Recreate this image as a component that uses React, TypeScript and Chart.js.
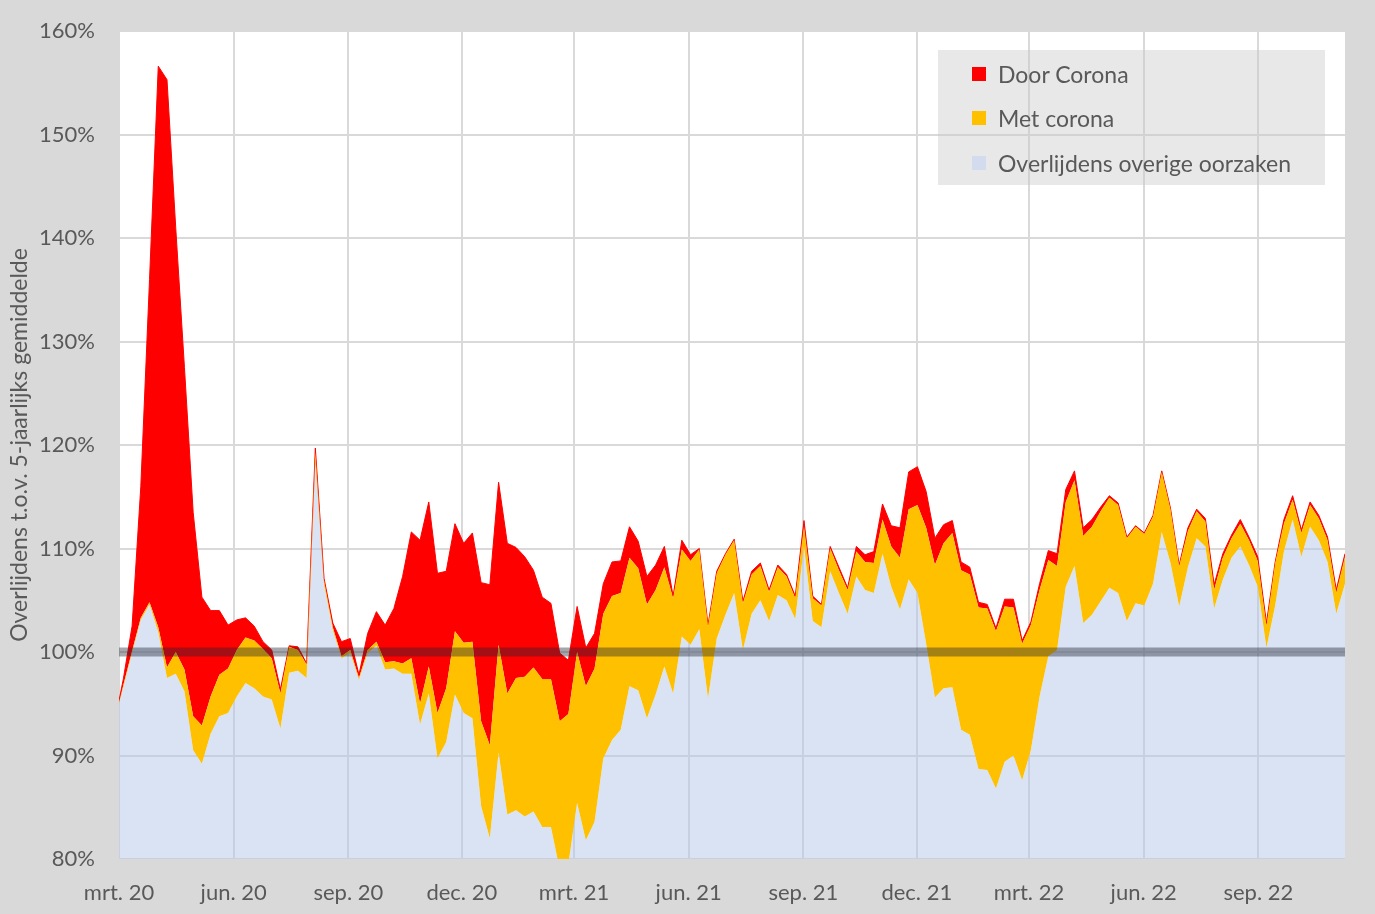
import React, { useEffect, useRef } from "react";
import { Chart, registerables } from "chart.js";

Chart.register(...registerables);

// Tick labels on the date axis (days since 1 March 2020)
const X_TICK_DAYS = [0, 92, 184, 275, 365, 457, 549, 640, 730, 822, 914];
const X_TICK_LABELS = [
  "mrt. 20", "jun. 20", "sep. 20", "dec. 20", "mrt. 21", "jun. 21",
  "sep. 21", "dec. 21", "mrt. 22", "jun. 22", "sep. 22",
];
const X_MAX_DAY = 983.5;

const SERIES_NAMES = ["Door Corona", "Met corona", "Overlijdens overige oorzaken"];
const REF_LEVEL = 100;

// Top of the "overige oorzaken" layer (first value = left edge of the plot, then weekly)
const overigTop = [
  95.0, 96.6, 99.9, 103.1, 104.6, 101.9, 97.5, 97.9, 96.2, 90.5, 89.2, 92.1, 93.8, 94.1, 95.7, 97.0,
  96.5, 95.7, 95.4, 92.6, 98.0, 98.2, 97.5, 118.5, 106.5, 102.1, 99.4, 99.9, 97.3, 99.9, 100.6, 98.3,
  98.4, 97.9, 97.9, 93.0, 96.0, 89.7, 91.3, 95.9, 94.1, 93.6, 85.1, 82.0, 90.3, 84.3, 84.7, 84.1,
  84.6, 83.1, 83.1, 79.0, 79.5, 85.4, 81.8, 83.6, 89.7, 91.5, 92.5, 96.7, 96.3, 93.6, 95.9, 98.6,
  96.0, 101.5, 100.7, 102.2, 95.5, 101.3, 103.6, 105.7, 100.2, 103.7, 105.0, 103.0, 105.5, 105.0, 103.2, 110.2,
  103.0, 102.4, 107.8, 105.7, 103.7, 107.3, 106.0, 105.7, 109.5, 106.3, 104.1, 107.0, 105.7, 100.8, 95.6, 96.5,
  96.6, 92.5, 92.0, 88.7, 88.6, 86.8, 89.4, 90.0, 87.6, 90.5, 95.7, 99.6, 100.2, 106.3, 108.3, 102.8,
  103.6, 104.9, 106.2, 105.7, 103.0, 104.7, 104.5, 106.6, 111.6, 108.6, 104.4, 108.2, 111.0, 110.2, 104.2, 107.0,
  109.1, 110.2, 108.4, 106.3, 100.4, 104.5, 109.7, 112.8, 109.2, 112.1, 110.8, 108.7, 103.7, 106.6,
];

// Top of the "Met corona" layer
const metTop = [
  95.1, 96.8, 100.1, 103.3, 104.8, 102.4, 98.5, 100.0, 98.3, 93.8, 92.9, 95.7, 97.8, 98.4, 100.2, 101.4,
  101.1, 100.3, 99.4, 96.0, 100.5, 100.2, 98.8, 119.3, 106.9, 102.4, 99.6, 100.2, 97.5, 100.2, 101.0, 99.0,
  99.1, 98.9, 99.4, 95.0, 98.6, 94.1, 96.5, 102.0, 100.9, 101.0, 93.3, 91.0, 100.7, 96.0, 97.5, 97.6,
  98.5, 97.4, 97.4, 93.3, 94.0, 100.0, 96.7, 98.4, 103.7, 105.4, 105.7, 109.1, 108.1, 104.6, 106.0, 108.2,
  105.2, 109.9, 108.8, 109.9, 102.5, 107.6, 109.4, 110.8, 104.7, 107.5, 108.3, 105.8, 108.2, 107.3, 105.2, 112.1,
  105.2, 104.5, 110.0, 107.9, 106.0, 109.7, 108.7, 108.6, 112.8, 110.2, 109.1, 113.8, 114.2, 112.0, 108.4, 110.5,
  111.5, 107.9, 107.5, 104.3, 104.2, 102.0, 104.4, 104.3, 100.8, 102.6, 106.0, 108.9, 108.3, 114.5, 116.6, 111.2,
  112.1, 113.6, 114.9, 114.2, 111.0, 112.1, 111.4, 113.1, 117.4, 113.8, 108.3, 111.7, 113.6, 112.6, 106.0, 109.1,
  111.0, 112.4, 110.8, 108.8, 102.5, 108.6, 112.4, 114.7, 111.5, 114.2, 112.9, 110.8, 105.7, 109.2,
];

// Top of the "Door Corona" layer (total)
const doorTop = [
  95.3, 97.4, 102.5, 116.0, 136.0, 156.6, 155.3, 141.0, 127.5, 113.5, 105.3, 104.0, 104.0, 102.6, 103.1, 103.3,
  102.5, 101.0, 100.2, 96.4, 100.6, 100.5, 98.9, 119.7, 107.1, 102.8, 101.0, 101.3, 97.8, 101.8, 103.9, 102.6,
  104.2, 107.3, 111.6, 110.8, 114.5, 107.6, 107.8, 112.4, 110.5, 111.5, 106.7, 106.5, 116.4, 110.5, 110.1, 109.2,
  107.9, 105.3, 104.7, 99.9, 99.2, 104.4, 100.4, 101.8, 106.6, 108.7, 108.8, 112.1, 110.7, 107.3, 108.4, 110.2,
  105.4, 110.8, 109.4, 110.0, 102.6, 107.8, 109.5, 110.9, 104.9, 107.8, 108.6, 106.0, 108.4, 107.5, 105.4, 112.7,
  105.4, 104.6, 110.2, 108.2, 106.2, 110.2, 109.4, 109.7, 114.3, 112.2, 112.0, 117.4, 117.9, 115.5, 111.0, 112.3,
  112.7, 108.7, 108.2, 104.8, 104.6, 102.3, 105.1, 105.1, 101.1, 102.9, 106.6, 109.8, 109.5, 115.7, 117.5, 112.0,
  112.8, 114.0, 115.1, 114.4, 111.1, 112.2, 111.5, 113.2, 117.5, 113.9, 108.4, 112.0, 113.8, 112.9, 106.5, 109.5,
  111.3, 112.8, 111.1, 109.2, 102.8, 108.7, 112.8, 115.1, 111.8, 114.5, 113.2, 111.1, 106.0, 109.5,
];

// x position in days since 1 March 2020: left edge, then mid-week points
const xDays = overigTop.map((_, i) => (i === 0 ? 0 : 3.5 + 7 * (i - 1)));
const toPoints = (arr: number[]) => arr.map((y, i) => ({ x: xDays[i], y }));

const FONT = "Lato, 'Open Sans', sans-serif";
const TEXT_COLOR = "#595959";
const GRID_COLOR = "#d9d9d9";
const RED = "#ff0000";
const YELLOW = "#ffc000";
const BLUE_FILL = "rgba(180,199,231,0.5)";

const plotBackground = {
  id: "plotBackground",
  beforeDraw(chart: any) {
    const { ctx, chartArea } = chart;
    if (!chartArea) return;
    ctx.save();
    ctx.fillStyle = "#ffffff";
    ctx.fillRect(chartArea.left, chartArea.top, chartArea.right - chartArea.left, chartArea.bottom - chartArea.top);
    ctx.restore();
  },
};

export default function App() {
  const canvasRef = useRef<HTMLCanvasElement | null>(null);

  useEffect(() => {
    if (!canvasRef.current) return;
    const chart = new Chart(canvasRef.current, {
      type: "line",
      data: {
        datasets: [
          {
            label: SERIES_NAMES[2],
            data: toPoints(overigTop),
            backgroundColor: BLUE_FILL,
            borderWidth: 0,
            fill: "start",
            pointRadius: 0,
            tension: 0,
          },
          {
            label: SERIES_NAMES[1],
            data: toPoints(metTop),
            backgroundColor: YELLOW,
            borderColor: YELLOW,
            borderWidth: 0,
            fill: "-1",
            pointRadius: 0,
            tension: 0,
          },
          {
            label: SERIES_NAMES[0],
            data: toPoints(doorTop),
            backgroundColor: RED,
            borderColor: RED,
            borderWidth: 1,
            fill: "-1",
            pointRadius: 0,
            tension: 0,
          },
          {
            label: "100%",
            data: [
              { x: 0, y: REF_LEVEL },
              { x: X_MAX_DAY, y: REF_LEVEL },
            ],
            borderColor: "rgba(30,35,50,0.4)",
            borderWidth: 9,
            fill: false,
            pointRadius: 0,
            order: -1,
          },
        ],
      },
      options: {
        responsive: false,
        devicePixelRatio: 1,
        animation: false,
        layout: { padding: { left: 0, right: 30, top: 31, bottom: 0 } },
        plugins: {
          legend: { display: false },
          tooltip: { enabled: false },
        },
        scales: {
          x: {
            type: "linear",
            min: 0,
            max: X_MAX_DAY,
            afterBuildTicks: (scale: any) => {
              scale.ticks = X_TICK_DAYS.map((v) => ({ value: v }));
            },
            afterFit: (scale: any) => {
              scale.height = 55;
              scale.paddingLeft = 0;
              scale.paddingRight = 0;
            },
            ticks: {
              autoSkip: false,
              maxRotation: 0,
              padding: 21,
              color: TEXT_COLOR,
              font: { family: FONT, size: 22 },
              callback: (_v: any, i: number) => X_TICK_LABELS[i] ?? "",
            },
            grid: { color: GRID_COLOR, lineWidth: 2, drawTicks: false },
            border: { display: false },
          },
          y: {
            min: 80,
            max: 160,
            afterFit: (scale: any) => {
              scale.width = 119;
              scale.paddingTop = 0;
              scale.paddingBottom = 0;
            },
            ticks: {
              stepSize: 10,
              padding: 24,
              color: TEXT_COLOR,
              font: { family: FONT, size: 22 },
              callback: (v: any) => `${v}%`,
            },
            grid: { color: GRID_COLOR, lineWidth: 2, drawTicks: false },
            border: { display: false },
            title: {
              display: true,
              text: "Overlijdens t.o.v. 5-jaarlijks gemiddelde",
              color: TEXT_COLOR,
              font: { family: FONT, size: 23 },
              padding: { top: 6, bottom: 0 },
            },
          },
        },
      },
      plugins: [plotBackground],
    } as any);
    return () => chart.destroy();
  }, []);

  const legendItems = [
    { name: SERIES_NAMES[0], color: RED },
    { name: SERIES_NAMES[1], color: YELLOW },
    { name: SERIES_NAMES[2], color: "#d3dcef" },
  ];
  const rowCenters = [23.5, 68, 112.5];

  return (
    <div
      style={{
        position: "absolute",
        left: 0,
        top: 0,
        width: 1375,
        height: 914,
        background: "#d9d9d9",
        overflow: "hidden",
      }}
    >
      <canvas ref={canvasRef} width={1375} height={914} style={{ display: "block", width: 1375, height: 914 }} />
      <div
        style={{
          position: "absolute",
          left: 938,
          top: 50,
          width: 387,
          height: 135,
          background: "rgba(200,200,200,0.42)",
          fontFamily: FONT,
          fontSize: 23,
          color: TEXT_COLOR,
        }}
      >
        {legendItems.map((it, i) => (
          <React.Fragment key={it.name}>
            <div
              style={{
                position: "absolute",
                left: 34,
                top: rowCenters[i] - 7,
                width: 14,
                height: 14,
                background: it.color,
              }}
            />
            <div
              style={{
                position: "absolute",
                left: 60,
                top: rowCenters[i] - 15,
                height: 30,
                lineHeight: "30px",
                whiteSpace: "nowrap",
              }}
            >
              {it.name}
            </div>
          </React.Fragment>
        ))}
      </div>
    </div>
  );
}
